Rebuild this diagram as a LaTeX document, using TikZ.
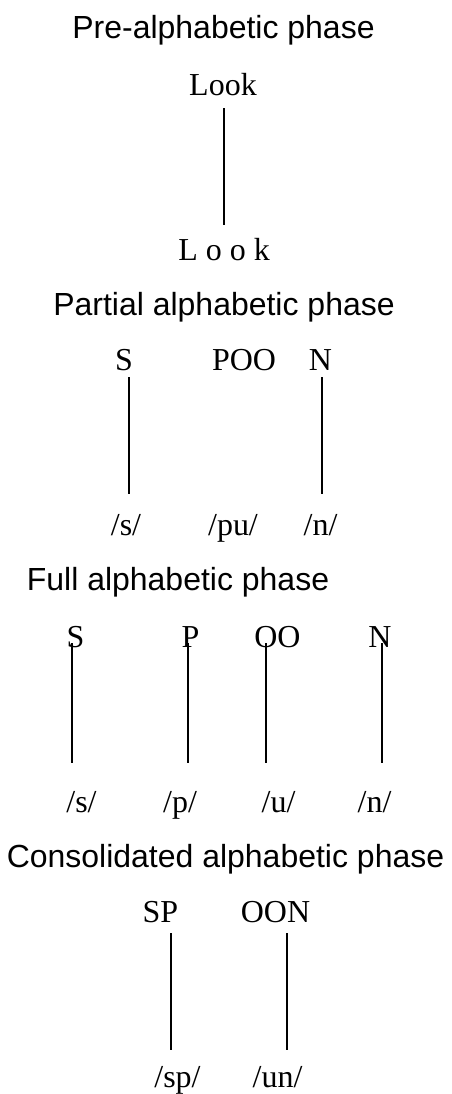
\documentclass[tikz,border=0pt]{standalone}
\usepackage{fontspec}
\setmainfont{Liberation Serif}
\newfontfamily\headfont{Liberation Sans}
\usepackage{xcolor}

\begin{document}
\begin{tikzpicture}[
  line width=0.9pt,  phase/.style={anchor=base,inner sep=0pt,font=\headfont\fontsize{18.2pt}{22pt}\selectfont},  word/.style={anchor=base,inner sep=0pt,font=\fontsize{18.2pt}{22pt}\selectfont},  link/.style={line width=0.9pt}
]
  \useasboundingbox (0,0) rectangle (9.04,-21.88);
  \node[phase] (h1) at (4.470,-0.780) {Pre-alphabetic phase};
  \node[word] (look) at (4.460,-1.900) {Look};
  \node[word] (lsound) at (4.480,-5.200) {L o o k};
  \coordinate (l1a) at (4.480,-2.160);
  \coordinate (l1b) at (4.480,-4.500);
  \draw[link] (l1a) -- (l1b);
  \node[phase] (h2) at (4.480,-6.300) {Partial alphabetic phase};
  \node[word] (S2) at (2.480,-7.400) {S};
  \node[word] (POO2) at (4.880,-7.400) {POO};
  \node[word] (N2) at (6.410,-7.400) {N};
  \node[word] (s2) at (2.520,-10.700) {/s/};
  \node[word] (pu2) at (4.660,-10.700) {/pu/};
  \node[word] (n2) at (6.410,-10.700) {/n/};
  \coordinate (S2a) at (2.580,-7.540);
  \coordinate (S2b) at (2.580,-9.880);
  \coordinate (N2a) at (6.440,-7.540);
  \coordinate (N2b) at (6.440,-9.880);
  \draw[link] (S2a) -- (S2b);
  \draw[link] (N2a) -- (N2b);
  \node[phase] (h3) at (3.560,-11.800) {Full alphabetic phase};
  \node[word] (S3) at (1.510,-12.940) {S};
  \node[word] (P3) at (3.810,-12.940) {P};
  \node[word] (OO3) at (5.550,-12.940) {OO};
  \node[word] (N3) at (7.600,-12.940) {N};
  \node[word] (s3) at (1.630,-16.240) {/s/};
  \node[word] (p3) at (3.600,-16.240) {/p/};
  \node[word] (u3) at (5.570,-16.240) {/u/};
  \node[word] (n3) at (7.490,-16.240) {/n/};
  \coordinate (S3a) at (1.440,-12.860);
  \coordinate (S3b) at (1.440,-15.260);
  \coordinate (P3a) at (3.760,-12.860);
  \coordinate (P3b) at (3.760,-15.260);
  \coordinate (OO3a) at (5.320,-12.860);
  \coordinate (OO3b) at (5.320,-15.260);
  \coordinate (N3a) at (7.640,-12.860);
  \coordinate (N3b) at (7.640,-15.260);
  \draw[link] (S3a) -- (S3b);
  \draw[link] (P3a) -- (P3b);
  \draw[link] (OO3a) -- (OO3b);
  \draw[link] (N3a) -- (N3b);
  \node[phase] (h4) at (4.510,-17.340) {Consolidated alphabetic phase};
  \node[word] (SP4) at (3.210,-18.440) {SP};
  \node[word] (OON4) at (5.510,-18.440) {OON};
  \node[word] (sp4) at (3.550,-21.740) {/sp/};
  \node[word] (un4) at (5.550,-21.740) {/un/};
  \coordinate (SP4a) at (3.420,-18.660);
  \coordinate (SP4b) at (3.420,-21.000);
  \coordinate (OON4a) at (5.740,-18.660);
  \coordinate (OON4b) at (5.740,-21.000);
  \draw[link] (SP4a) -- (SP4b);
  \draw[link] (OON4a) -- (OON4b);
\end{tikzpicture}
\end{document}
